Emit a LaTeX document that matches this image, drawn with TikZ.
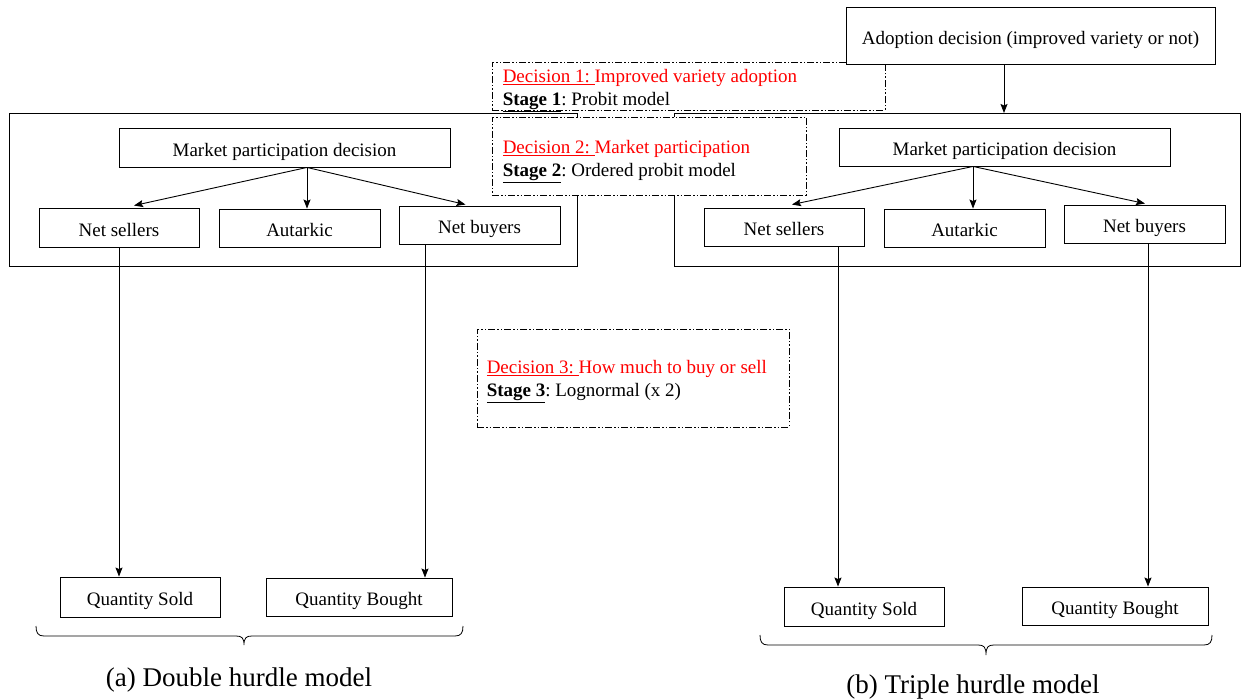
\documentclass[tikz,border=0pt]{standalone}
\usepackage{fontspec}
\setmainfont{Liberation Serif}
\usetikzlibrary{arrows.meta,calc}
\begin{document}
\frenchspacing
\begin{tikzpicture}[x=1pt,y=-1pt,
  lw/.style={line width=0.9pt},
  box/.style={draw,lw,fill=white,inner sep=0pt,text height=17.5pt,text depth=0pt,font=\fontsize{19}{23}\selectfont},
  frame/.style={draw,lw},
  dd/.style={draw,line width=0.9pt,fill=white,dash pattern=on 7pt off 2pt on 1.5pt off 2pt on 1.5pt off 2pt,inner sep=0pt},
  ddtext/.style={inner sep=0pt,anchor=north west,align=left,font=\fontsize{19}{23}\selectfont},
  arr/.style={lw,-{Stealth[length=9pt,width=7pt,inset=1.5pt]}},
  captext/.style={font=\fontsize{27}{30}\selectfont},
  br/.style={line width=0.8pt}]
\useasboundingbox (0,0) rectangle (1245,700);
\definecolor{dred}{RGB}{255,0,0}
% frames
\draw[frame] (9,113) rectangle (577,266);
\draw[frame] (674,113) rectangle (1240,266);
% decision boxes
\node[dd,minimum width=393pt,minimum height=48pt] (d1) at (688.5,86) {};
\node[ddtext] (d1t) at ($(d1.west)+(11,-17)$)
 {\textcolor{dred}{\underline{Decision 1: }Improved variety adoption}\\\underline{\textbf{Stage 1}}: Probit model};
\node[box,minimum width=369pt,minimum height=57pt] (ad) at (1030.5,35.5) {Adoption decision (improved variety or not)};
\node[dd,minimum width=314pt,minimum height=78pt] (d2) at (649,156) {};
\node[ddtext] (d2t) at ($(d2.west)+(11,-16)$)
 {\textcolor{dred}{\underline{Decision 2: }Market participation}\\\underline{\textbf{Stage 2}}: Ordered probit model};
\node[dd,minimum width=312pt,minimum height=98pt] (d3) at (633,378) {};
\node[ddtext] (d3t) at ($(d3.west)+(10,-18)$)
 {\textcolor{dred}{\underline{Decision 3: }How much to buy or sell}\\\underline{\textbf{Stage 3}}: Lognormal (x 2)};
% left tree
\node[box,minimum width=331pt,minimum height=39pt] (mpL) at (284.5,147.5) {Market participation decision};
\node[box,minimum width=160pt,minimum height=39pt] (nsL) at (119,227.5) {Net sellers};
\node[box,minimum width=161pt,minimum height=38pt] (auL) at (299.5,228) {Autarkic};
\node[box,minimum width=161pt,minimum height=38pt] (nbL) at (479.5,225) {Net buyers};
\node[box,minimum width=160pt,minimum height=40pt] (qsL) at (140,597) {Quantity Sold};
\node[box,minimum width=186pt,minimum height=38pt] (qbL) at (359,597) {Quantity Bought};
\coordinate (oL) at ($(mpL.south)+(22.5,0)$);
\draw[arr] (oL) -- ($(nsL.north)+(15,-2)$);
\draw[arr] (oL) -- (oL |- auL.north);
\draw[arr] (oL) -- ($(nbL.north)+(-14,-1)$);
\draw[arr] (nsL.south) -- (nsL.south |- qsL.north);
\coordinate (bL) at ($(nbL.south)+(-54.5,0)$);
\draw[arr] (bL) -- (bL |- qbL.north);
% right tree
\node[box,minimum width=331pt,minimum height=38pt] (mpR) at (1004.5,147) {Market participation decision};
\node[box,minimum width=160pt,minimum height=38pt] (nsR) at (784,227) {Net sellers};
\node[box,minimum width=161pt,minimum height=38pt] (auR) at (964.5,228) {Autarkic};
\node[box,minimum width=161pt,minimum height=38pt] (nbR) at (1144.5,224) {Net buyers};
\node[box,minimum width=160pt,minimum height=39pt] (qsR) at (864,606.5) {Quantity Sold};
\node[box,minimum width=186pt,minimum height=38pt] (qbR) at (1115,606) {Quantity Bought};
\coordinate (tR) at (1004,113);
\draw[arr] (ad.south -| tR) -- (tR);
\coordinate (oR) at ($(mpR.south)+(-31.5,0)$);
\draw[arr] (oR) -- ($(nsR.north)+(8,-3)$);
\draw[arr] (oR) -- (oR |- auR.north);
\draw[arr] (oR) -- ($(nbR.north)+(0.5,-1)$);
\coordinate (sR) at ($(nsR.south)+(54,0)$);
\draw[arr] (sR) -- (sR |- qsR.north);
\coordinate (bR) at ($(nbR.south)+(3.5,0)$);
\draw[arr] (bR) -- (bR |- qbR.north);
% braces
\draw[br] (36,626) .. controls (36,633) and (38,636) .. (44,636) -- (236,636)
  .. controls (242,636) and (244,638) .. (244,645)
  .. controls (244,638) and (246,636) .. (252,636) -- (455,636)
  .. controls (461,636) and (463,633) .. (463,626);
\draw[br] (760,635) .. controls (760,642) and (762,645) .. (768,645) -- (978,645)
  .. controls (984,645) and (986,647) .. (986,655)
  .. controls (986,647) and (988,645) .. (994,645) -- (1204,645)
  .. controls (1210,645) and (1212,642) .. (1212,635);
\node[captext] (la) at (239,680) {(a) Double hurdle model};
\node[captext] (lb) at (973,687) {(b) Triple hurdle model};
\end{tikzpicture}
\end{document}
